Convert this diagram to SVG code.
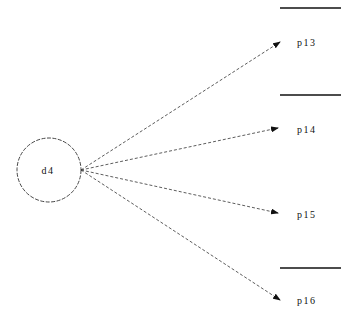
<svg xmlns="http://www.w3.org/2000/svg" width="341" height="329" viewBox="0 0 341 329">
<defs>
<marker id="ah" markerWidth="8" markerHeight="6" refX="7" refY="3" orient="auto" markerUnits="userSpaceOnUse">
<path d="M0,0 L8,3 L0,6 z" fill="#111"/>
</marker>
<style>
.edge{stroke:#333;stroke-width:0.8;stroke-dasharray:3,2;fill:none}
.lbl{font-family:"Liberation Serif",serif;font-size:10px;letter-spacing:1.5px;fill:#111}
.sep{stroke:#111;stroke-width:1.4}
</style>
</defs>
<rect width="341" height="329" fill="#fff"/>
<g id="separators">
<line class="sep" x1="280" y1="8" x2="341" y2="8"/>
<line class="sep" x1="280" y1="95" x2="341" y2="95"/>
<line class="sep" x1="280" y1="268" x2="341" y2="268"/>
</g>
<g id="connectors">
<line class="edge" x1="81" y1="170" x2="280" y2="42" marker-end="url(#ah)"/>
<line class="edge" x1="81" y1="170" x2="278" y2="128" marker-end="url(#ah)"/>
<line class="edge" x1="81" y1="170" x2="278" y2="213" marker-end="url(#ah)"/>
<line class="edge" x1="81" y1="170" x2="280" y2="300" marker-end="url(#ah)"/>
</g>
<g id="d4">
<circle cx="49" cy="170" r="32" fill="none" stroke="#333" stroke-width="0.9" stroke-dasharray="4,1.5"/>
<text class="lbl" x="48" y="174" text-anchor="middle">d4</text>
</g>
<g id="p13"><text class="lbl" x="297" y="46">p13</text></g>
<g id="p14"><text class="lbl" x="297" y="133">p14</text></g>
<g id="p15"><text class="lbl" x="297" y="218">p15</text></g>
<g id="p16"><text class="lbl" x="297" y="304">p16</text></g>
</svg>
